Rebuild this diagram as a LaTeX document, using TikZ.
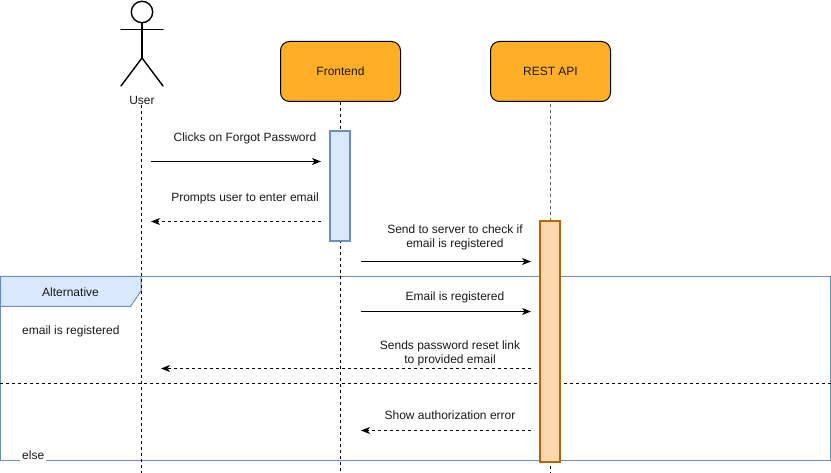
\documentclass[tikz,border=0pt]{standalone}
\usepackage{fontspec}
\setmainfont{Liberation Sans}
\usetikzlibrary{arrows.meta}
\definecolor{hdrfill}{HTML}{DAE8FC}
\definecolor{hdrline}{HTML}{6C8EBF}
\definecolor{orgfill}{HTML}{FAD7AC}
\definecolor{orgline}{HTML}{B46504}
\definecolor{pfill}{HTML}{FFAF27}
\tikzset{
  every node/.style={font=\fontsize{12}{14}\selectfont,text=black!90,inner sep=0pt,align=center},
  party/.style={draw=black,fill=pfill,rounded corners=9pt,minimum width=120pt,minimum height=60pt,line width=1pt},
  lifeline/.style={dashed,dash pattern=on 3pt off 3pt,line width=1pt},
  callarrow/.style={line width=1pt,-{Stealth[length=9pt,width=7pt,inset=2.5pt]}},
  retarrow/.style={callarrow,dash pattern=on 3pt off 3pt},
  blueact/.style={draw=hdrline,fill=hdrfill,line width=2pt,minimum width=20pt,minimum height=110pt},
  orangeact/.style={draw=orgline,fill=orgfill,line width=2pt,minimum width=20pt,minimum height=240pt},
  frameline/.style={draw=hdrline,line width=1pt},
  stick/.style={line width=1.4pt,line cap=round}
}
\begin{document}
\begin{tikzpicture}[x=1pt,y=-1pt]
\useasboundingbox (0,0) rectangle (831,473);
% frame
\draw[frameline] (0.5,276.5) rectangle (830.5,460.5);
\fill[hdrfill] (0.5,276.5) -- (141,276.5) -- (141,291) -- (130.5,306.5) -- (0.5,306.5) -- cycle;
\draw[frameline] (0.5,276.5) -- (141,276.5) -- (141,291) -- (130.5,306.5) -- (0.5,306.5) -- cycle;
\node (alt) at (70.5,292.5) {Alternative};
\node[anchor=west] (cond) at (22,331) {email is registered};
\node[anchor=west,fill=white,inner xsep=2pt,minimum height=13pt] (elselbl) at (20,455.5) {else};
% lifeline ends and parties
\node[party] (fe) at (340.5,71.5) {Frontend};
\node[party] (api) at (550.5,71.5) {REST API};
\node (user) at (142,100.5) {User};
\coordinate (feend) at (340.5,473);
\coordinate (apiend) at (550,473);
\coordinate (userend) at (141.5,473);
\coordinate (divl) at (0,383.5);
\coordinate (divr) at (831,383.5);
\draw[lifeline] (user.south) ++(-0.5,0) -- (userend);
\draw[lifeline] (fe.south) -- (feend);
\draw[lifeline,draw=black!60] (550,104) -- (550,222);
\draw[lifeline] (550,460) -- (apiend);
\draw[lifeline] (divl) -- (divr);
% stick figure
\draw[stick] (142,12) circle (10.7pt);
\draw[stick] (142,23) -- (142,58);
\draw[stick] (121,29.5) -- (163,29.5);
\draw[stick] (121,86) -- (142,58) -- (163,86);
% activations
\node[blueact] (act1) at (340.2,186.5) {};
\node[orangeact] (act2) at (550.2,341.5) {};
% message ends
\coordinate (m1a) at (151,161.5); \coordinate (m1b) at (321,161.5);
\coordinate (m2a) at (321,221.5); \coordinate (m2b) at (151,221.5);
\coordinate (m3a) at (361,261.5); \coordinate (m3b) at (531,261.5);
\coordinate (m4a) at (361,311.5); \coordinate (m4b) at (531,311.5);
\coordinate (m5a) at (531,368.5); \coordinate (m5b) at (161,368.5);
\coordinate (m6a) at (531,430.5); \coordinate (m6b) at (361,430.5);
\draw[callarrow] (m1a) -- (m1b);
\draw[retarrow] (m2a) -- (m2b);
\draw[callarrow] (m3a) -- (m3b);
\draw[callarrow] (m4a) -- (m4b);
\draw[retarrow] (m5a) -- (m5b);
\draw[retarrow] (m6a) -- (m6b);
% labels
\node (t1) at (245,138) {Clicks on Forgot Password};
\node (t2) at (245,198) {Prompts user to enter email};
\node (t3) at (455,237.5) {Send to server to check if\\email is registered};
\node (t4) at (455,297.5) {Email is registered};
\node (t5) at (450,353.5) {Sends password reset link\\to provided email};
\node (t6) at (450,415.5) {Show authorization error};
\end{tikzpicture}
\end{document}
